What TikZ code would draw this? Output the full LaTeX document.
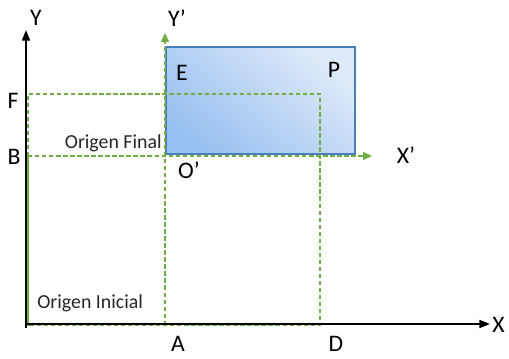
\documentclass[tikz,border=0pt]{standalone}
\usepackage{fontspec}
\setmainfont{Carlito}
\usetikzlibrary{
    positioning,  % colocacion relativa
    arrows.meta,  % puntas de flecha
    calc          % coordenadas
}
\definecolor{verde}{HTML}{70AD47}
\definecolor{borde}{HTML}{4A7EBB}
\definecolor{azulosc}{HTML}{98C0F0}
\definecolor{azulcla}{HTML}{DFEAF9}

\begin{document}
\begin{tikzpicture}[
        x=0.02cm, y=-0.02cm,
        eje/.style={
            line width=1pt,
            -{Triangle[length=6pt,width=4.5pt]}
        },
        ejeverde/.style={
            verde,
            line width=0.6pt,
            dash pattern=on 2.5pt off 1.5pt,
            -{Triangle[length=5pt,width=4.5pt]}
        },
        guia/.style={
            verde,
            line width=0.6pt,
            dash pattern=on 2.5pt off 1.5pt
        },
        etiq/.style={
            font=\fontsize{13.5}{15}\selectfont,
            inner sep=0pt
        },
        nota/.style={
            font=\fontsize{11.3}{13}\selectfont,
            text=black!85,
            inner sep=0pt
        }
    ]
    \useasboundingbox (0,0) rectangle (509,358);

    % puntos del sistema
    \coordinate (O) at (26,324);
    \coordinate (Xfin) at (490,324);
    \coordinate (Yfin) at (26,30);
    \coordinate (A) at (165,325);
    \coordinate (D) at (320,325);
    \coordinate (F) at (28,94);
    \coordinate (B) at (28,156);
    \coordinate (Op) at (165,156);
    \coordinate (C) at (320,94);
    \coordinate (Xpfin) at (372,156);
    \coordinate (Ypfin) at (165,33);

    % cuerpo desplazado
    \shade[top color=azulcla, bottom color=azulosc, shading angle=-40,
           draw=borde, line width=0.6pt]
        (166,47) rectangle (355,154);

    % guias punteadas
    \draw[guia] (28,325) -- (F) -- (C) -- (D) -- cycle;
    \draw[guia] (B) -- (28,325);

    % ejes nuevos
    \draw[ejeverde] (B) -- (Xpfin);
    \draw[ejeverde] (A) -- (Ypfin);

    % ejes originales
    \draw[eje] (O) -- (Xfin);
    \draw[eje] (26,328) -- (Yfin);

    % etiquetas
    \node[etiq] (ly) at (36,18) {Y};
    \node[etiq] (lyp) at (177,18) {Y’};
    \node[etiq, anchor=west] (lx) at (492,325) {X};
    \node[etiq] (lxp) at (406,155) {X’};
    \node[etiq] (lf) at (13,101) {F};
    \node[etiq] (lb) at (14,157) {B};
    \node[etiq] (la) at (178,344) {A};
    \node[etiq] (ld) at (336,344) {D};
    \node[etiq] (le) at (182,73) {E};
    \node[etiq] (lp) at (334,70) {P};
    \node[etiq] (lop) at (189,170) {O’};
    \node[nota, anchor=south east] (fin) at (162,152) {Origen Final};
    \node[nota, anchor=south west] (ini) at (37,312) {Origen Inicial};
\end{tikzpicture}
\end{document}
